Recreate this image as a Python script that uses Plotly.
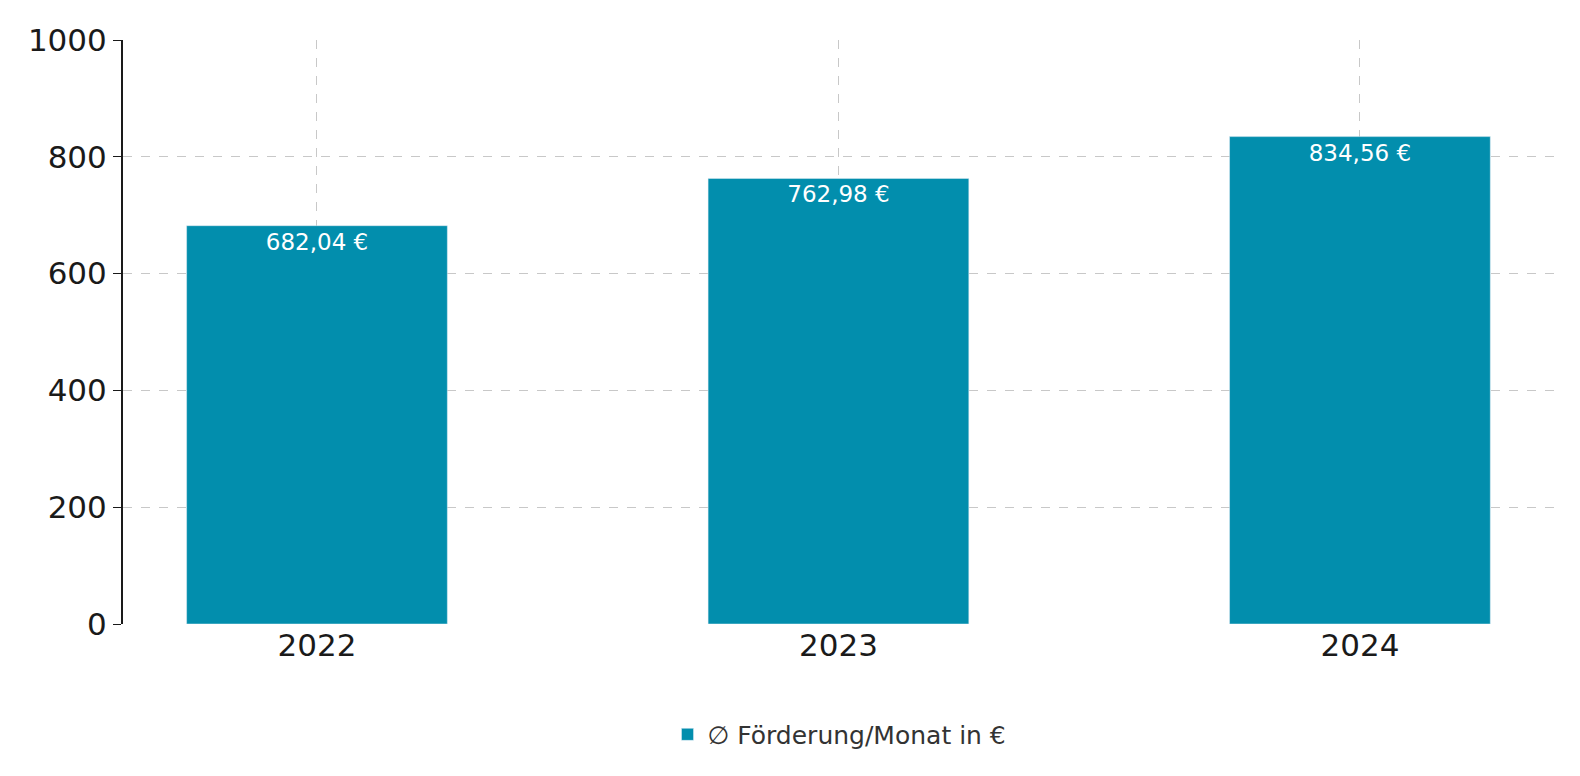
import plotly.graph_objects as go

years = ["2022", "2023", "2024"]
values = [682.04, 762.98, 834.56]
labels = ["682,04 €", "762,98 €", "834,56 €"]

fig = go.Figure(go.Bar(
    x=years, y=values, width=0.5, marker_color="#028ead",
    text=labels, textposition="inside", insidetextanchor="end",
    textfont=dict(color="white", size=23, family="DejaVu Sans"),
    name="∅ Förderung/Monat in €", showlegend=True,
))
fig.update_layout(
    width=1580, height=776, plot_bgcolor="white", paper_bgcolor="white",
    margin=dict(l=115, r=32, t=32, b=160),
    font=dict(family="DejaVu Sans", color="#1a1a1a"),
    legend=dict(orientation="h", x=0.5, xanchor="center", y=-0.15, yanchor="top",
                font=dict(size=25, color="#333")),
    bargap=0.5,
)
fig.update_xaxes(type="category", range=[-0.372, 2.376], showgrid=True,
                 gridcolor="#c8c8c8", griddash="dash", tickfont=dict(size=31),
                 ticks="", showline=False)
fig.update_yaxes(range=[0, 1000], dtick=200, showgrid=True, gridcolor="#c8c8c8",
                 griddash="dash", tickfont=dict(size=31), ticks="outside",
                 ticklen=8, tickcolor="#1a1a1a", showline=True, linecolor="#1a1a1a",
                 linewidth=2, zeroline=False)
fig.write_html("out.html")
